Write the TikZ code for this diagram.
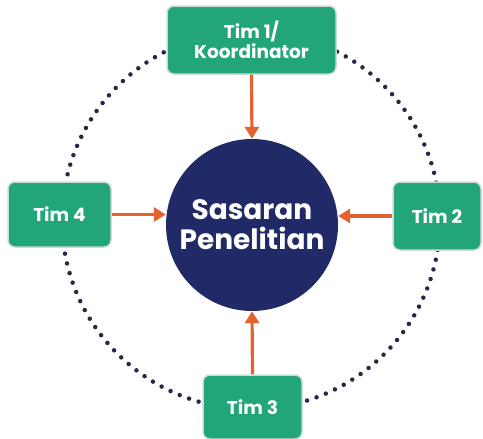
\documentclass[tikz,border=0pt]{standalone}
\usepackage{fontspec}
\setmainfont{Poppins}
\usetikzlibrary{arrows.meta}
\definecolor{tgreen}{HTML}{22A679}
\definecolor{tborder}{HTML}{C9DDD5}
\definecolor{tnavy}{HTML}{1F2A66}
\definecolor{torange}{HTML}{E4622F}
\definecolor{tdot}{HTML}{262845}
\begin{document}
\begin{tikzpicture}[x=1pt,y=-1pt,
  teambox/.style={draw=tborder,line width=1.5pt,fill=tgreen,rounded corners=7pt,
    text=white,font=\fontsize{18.5}{19.5}\selectfont\bfseries,align=center,inner sep=0pt},
  hub/.style={circle,fill=tnavy,minimum size=172pt,inner sep=0pt,text=white,
    font=\fontsize{28}{30}\selectfont\bfseries,align=center},
  link/.style={draw=torange,line width=3.2pt,-{Triangle[width=14pt,length=12pt]}},
  ring/.style={draw=tdot,line width=4.5pt,line cap=round,dash pattern=on 0pt off 10pt}]
\useasboundingbox (0,0) rectangle (483,439);
\draw[ring] (251,220) circle[radius=189];
\node[hub] (c) at (252,225) {Sasaran\\Penelitian};
\node[teambox,minimum width=169pt,minimum height=68pt] (t1) at (251.5,40) {Tim 1/\\Koordinator};
\node[teambox,minimum width=103pt,minimum height=65pt] (t4) at (59.5,214.5) {Tim 4};
\node[teambox,minimum width=88pt,minimum height=68pt] (t2) at (437,216) {Tim 2};
\node[teambox,minimum width=99pt,minimum height=64pt] (t3) at (252.5,407) {Tim 3};
\draw[link] (t1.south) -- (c.north);
\draw[link] (t4.east) -- (t4.east -| c.west);
\draw[link] (t2.west) -- (t2.west -| c.east);
\draw[link] (t3.north) -- (c.south);
\end{tikzpicture}
\end{document}
